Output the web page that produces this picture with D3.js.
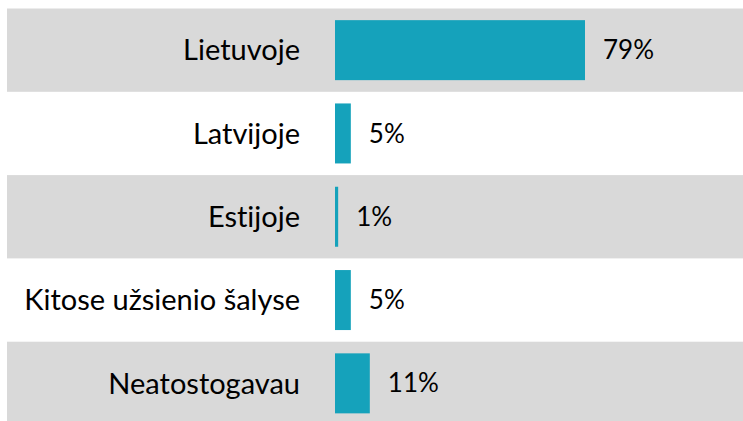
<!DOCTYPE html>
<html><head><meta charset="utf-8">
<script src="https://cdn.jsdelivr.net/npm/d3@7"></script>
<style>html,body{margin:0;padding:0;background:#fff;overflow:hidden} text{font-variant-ligatures:none;font-feature-settings:"liga" 0}</style>
</head><body>
<svg id="c" width="743" height="421"></svg>
<script>
const categories = ["Lietuvoje", "Latvijoje", "Estijoje", "Kitose užsienio šalyse", "Neatostogavau"];
const values = [79, 5, 1, 5, 11];
const valueLabels = ["79%", "5%", "1%", "5%", "11%"];

const svg = d3.select("#c");
const W = 743, H = 421;
const y0 = 8.5, step = 83.3;
const band = d3.scaleBand().domain(categories).range([y0, y0 + step * categories.length]);
const x = d3.scaleLinear().domain([0, 79]).range([335, 585]);

svg.selectAll("rect.bg").data(categories.filter((d, i) => i % 2 === 0)).join("rect")
  .attr("class", "bg")
  .attr("x", 7).attr("width", W - 7)
  .attr("y", d => band(d)).attr("height", band.bandwidth())
  .attr("fill", "#d9d9d9");

const rows = categories.map((c, i) => ({c, v: values[i], l: valueLabels[i]}));

svg.selectAll("rect.bar").data(rows).join("rect")
  .attr("class", "bar")
  .attr("x", x(0))
  .attr("y", d => band(d.c) + band.bandwidth() / 2 - 30)
  .attr("width", d => x(d.v) - x(0))
  .attr("height", 60)
  .attr("fill", "#15a2bb");

svg.selectAll("text.cat").data(rows).join("text")
  .attr("class", "cat")
  .attr("x", 300)
  .attr("y", d => band(d.c) + band.bandwidth() / 2)
  .attr("dy", "0.35em")
  .attr("text-anchor", "end")
  .attr("font-family", "Lato, 'Open Sans', sans-serif")
  .attr("font-size", 29)
  .attr("fill", "#000")
  .text(d => d.c);

svg.selectAll("text.val").data(rows).join("text")
  .attr("class", "val")
  .attr("x", d => x(d.v) + 18)
  .attr("y", d => band(d.c) + band.bandwidth() / 2)
  .attr("dy", "0.35em")
  .attr("font-family", "Lato, 'Open Sans', sans-serif")
  .attr("font-size", 26)
  .attr("fill", "#000")
  .text(d => d.l);
</script>
</body></html>
